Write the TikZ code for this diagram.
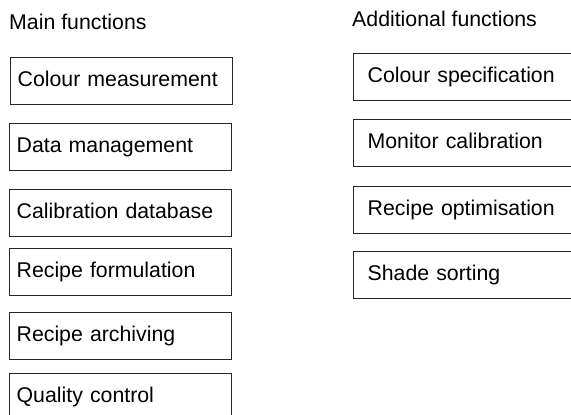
\documentclass[tikz,border=0pt]{standalone}
\usepackage{fontspec}
\setmainfont{Liberation Sans}
\usetikzlibrary{positioning}

\begin{document}
\begin{tikzpicture}[
  x=1pt, y=-1pt,
  font=\fontsize{21.3}{25}\selectfont,
  func/.style={rectangle, draw=black!85, line width=1.3pt, anchor=north west,
               minimum height=47pt, text width=208pt, inner xsep=7pt,
               text height=16pt, text depth=5pt, align=left},
  extrafunc/.style={func, text width=210pt, inner xsep=14pt},
  heading/.style={anchor=base west, inner sep=0pt},
]
\useasboundingbox (0,0) rectangle (571,415);
\clip (0,0) rectangle (571,415);

%% -- Headings ---------------------------------------------------------------
\node[heading] (mainhead) at (9,29)  {Main functions};
\node[heading] (addhead)  at (352,27) {Additional functions};

%% -- Column 1: main functions -----------------------------------------------
\node[func] (measure)   at (10,57)  {Colour measurement};
\node[func] (datamgmt)  at (9,123)  {Data management};
\node[func] (calibdb)   at (9,189)  {Calibration database};
\node[func] (formulate) at (9,248)  {Recipe formulation};
\node[func] (archive)   at (9,312)  {Recipe archiving};
\node[func] (quality)   at (9,373)  {Quality control};

%% -- Column 2: additional functions (run past the right edge) ---------------
\node[extrafunc] (specify)  at (353,53)  {Colour specification};
\node[extrafunc] (monitor)  at (353,119) {Monitor calibration};
\node[extrafunc] (optimise) at (353,186) {Recipe optimisation};
\node[extrafunc] (sorting)  at (353,251) {Shade sorting};

\end{tikzpicture}
\end{document}
